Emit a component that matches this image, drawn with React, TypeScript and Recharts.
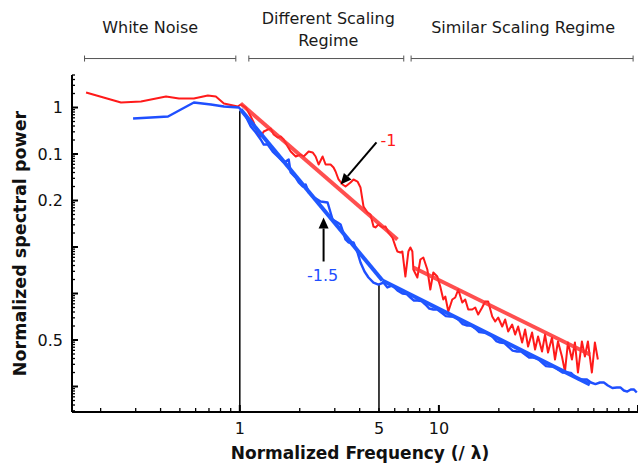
import { LineChart, Line, XAxis, YAxis, ReferenceLine, ReferenceDot } from "recharts";

// 周波数（/λ で正規化）とスペクトルパワー、赤系列
const redFreq = [
  0.169, 0.253, 0.319, 0.426, 0.495, 0.588, 0.691, 0.758, 0.832, 0.977,
  1.01, 1.072, 1.135, 1.175, 1.231, 1.274, 1.319, 1.381, 1.43, 1.48,
  1.55, 1.605, 1.661, 1.74, 1.801, 1.909, 2.021, 2.093, 2.217, 2.322,
  2.403, 2.488, 2.606, 2.697, 2.857, 2.957, 3.027, 3.133, 3.281, 3.396,
  3.598, 3.725, 3.901, 4.039, 4.181, 4.378, 4.532, 4.692, 4.801, 4.97,
  5.205, 5.388, 5.578, 5.841, 6.047, 6.189, 6.407, 6.556, 6.787, 7.026,
  7.191, 7.358, 7.443, 7.795, 8.069, 8.353, 8.748, 9.055, 9.373, 9.817,
  10.16, 10.52, 10.77, 11.15, 11.67, 12.08, 12.51, 13.1, 13.56, 14.04,
  14.7, 15.22, 15.75, 16.49, 17.07, 17.68, 18.53, 19.18, 19.85, 20.79,
  21.52, 22.28, 23.33, 24.15, 25.0, 26.18, 27.1, 28.05, 29.37, 30.41,
  31.48, 32.96, 34.12, 35.32, 36.99, 38.29, 39.64, 41.5, 42.96, 44.48,
  46.58, 48.22, 49.92, 52.27, 54.11, 56.02, 58.66, 60.73, 62.87,
];
const redPower = [
  2.1, 1.28, 1.35, 1.72, 1.56, 1.56, 1.81, 1.72, 1.22, 1.05,
  1.16, 1.0, 0.64, 0.476, 0.263, 0.238, 0.305, 0.336, 0.353, 0.263,
  0.226, 0.238, 0.205, 0.145, 0.113, 0.0884, 0.0975, 0.0884, 0.113, 0.108,
  0.0884, 0.0594, 0.0884, 0.0594, 0.0594, 0.0513, 0.042, 0.0283, 0.0221, 0.02,
  0.0244, 0.0283, 0.0256, 0.019, 0.00743, 0.00552, 0.005, 0.00276, 0.00263, 0.00305,
  0.00263, 0.00276, 0.00205, 0.0016, 0.00103, 0.0008, 0.000762, 0.0008, 0.000232, 0.0008,
  0.000976, 0.0008, 0.000328, 0.000221, 0.000538, 0.000594, 0.000328, 0.000122, 0.000283, 0.000232,
  0.000142, 0.0000743, 0.0000861, 0.000041, 0.0000743, 0.000082, 0.000122, 0.000064, 0.0000743, 0.0000453,
  0.0000453, 0.00005, 0.0000353, 0.00005, 0.0000673, 0.0000673, 0.000032, 0.000025, 0.0000305, 0.0000195,
  0.0000276, 0.0000152, 0.0000215, 0.0000131, 0.0000195, 0.00000883, 0.0000168, 0.00000724, 0.0000145, 0.00000625,
  0.0000119, 0.00000566, 0.0000131, 0.00000538, 0.0000113, 0.00000381, 0.00000929, 0.00000442, 0.0000021, 0.00000883,
  0.00000381, 0.00000883, 0.000002, 0.00000929, 0.00000442, 0.00000929, 0.000002, 0.00000883, 0.00000381,
];

// 青系列
const blueFreq = [
  0.291, 0.358, 0.436, 0.506, 0.588, 0.716, 0.832, 0.989, 1.01,
  1.072, 1.135, 1.203, 1.274, 1.319, 1.381, 1.463, 1.55, 1.642, 1.7,
  1.76, 1.801, 1.909, 1.976, 2.069, 2.141, 2.217, 2.322, 2.546, 2.76,
  2.924, 3.097, 3.206, 3.396, 3.516, 3.725, 3.901, 4.039, 4.23, 4.43,
  4.692, 4.97, 5.266, 5.514, 5.841, 6.189, 6.556, 6.87, 7.191, 7.49,
  7.795, 8.16, 8.551, 8.95, 9.373, 9.82, 10.28, 10.83, 11.41, 11.95,
  12.51, 13.17, 13.87, 14.53, 15.22, 15.93, 16.68, 17.58, 18.53, 19.4,
  20.31, 21.27, 22.28, 23.46, 24.71, 25.88, 27.1, 28.38, 29.72, 31.3,
  32.96, 34.51, 36.14, 37.85, 39.64, 41.75, 43.97, 46.05, 48.22, 50.49,
  52.87, 55.38, 58.02, 61.1, 64.35, 67.39, 70.58, 74.35, 78.31, 81.52,
  84.86, 88.36, 92.0, 95.25, 98.6,
];
const bluePower = [
  0.58, 0.609, 0.64, 0.906, 1.28, 1.16, 1.05, 1.0, 0.906,
  0.64, 0.39, 0.29, 0.205, 0.16, 0.16, 0.113, 0.0884, 0.069, 0.069,
  0.0762, 0.04, 0.0312, 0.0244, 0.02, 0.0221, 0.0149, 0.0122, 0.00951, 0.00906,
  0.0039, 0.00336, 0.00305, 0.00145, 0.00125, 0.00125, 0.000762, 0.000464, 0.000297, 0.000221,
  0.000172, 0.000156, 0.000172, 0.000135, 0.000149, 0.000116, 0.0001, 0.0000978, 0.000082, 0.0000705,
  0.0000706, 0.0000691, 0.000058, 0.0000475, 0.0000453, 0.0000454, 0.000039, 0.0000327, 0.000032, 0.0000321,
  0.0000276, 0.000022, 0.0000205, 0.0000206, 0.0000177, 0.0000148, 0.0000145, 0.0000142, 0.0000119, 0.0000095,
  0.00000883, 0.00000864, 0.00000724, 0.00000593, 0.00000566, 0.00000568, 0.00000488, 0.0000042, 0.00000421, 0.00000401,
  0.00000328, 0.00000275, 0.00000269, 0.0000027, 0.00000232, 0.00000199, 0.000002, 0.00000196, 0.00000164, 0.00000141,
  0.00000142, 0.00000142, 0.00000122, 0.00000113, 0.00000122, 0.00000122, 0.00000105, 0.000000926, 0.000000951, 0.000000954,
  0.00000082, 0.000000778, 0.000000861, 0.000000864, 0.000000743,
];

// 傾きのフィット直線（始点・終点）
const redFit1Freq = [1.01, 6.189];
const redFit1Power = [1.22, 0.00145];
const redFit2Freq = [7.443, 57.36];
const redFit2Power = [0.000362, 0.00000488];
const blueFit1Freq = [1.01, 5.205];
const blueFit1Power = [0.906, 0.00019];
const blueFit2Freq = [5.205, 57.36];
const blueFit2Power = [0.00019, 0.0000011];

// 領域の区切り
const regimeStart = [0.166, 1.11, 7.25];
const regimeEnd = [0.955, 6.66, 94.5];
const regimeLabels = [["White Noise"], ["Different Scaling", "Regime"], ["Similar Scaling Regime"]];
const regimeLevel = 11.3;

// 目盛りラベル（元の図のまま）
const xTickLabels: [number, string][] = [[1, "1"], [5, "5"], [10, "10"]];
const yTickLabels: [number, string][] = [[1, "1"], [0.1, "0.1"], [0.01, "0.2"], [0.00001, "0.5"]];

const X_MIN = 0.1436;
const X_MAX = 100;
const Y_MIN = 2.83e-7;
const Y_MAX = 5;

const RED = "#ff1a1a";
const BLUE = "#1f4fff";

const toPoints = (f: number[], p: number[]) => f.map((v, i) => ({ f: v, p: p[i] }));

// 対数目盛り（1〜9 × 10^k）
const logTicks = (min: number, max: number) => {
  const out: number[] = [];
  for (let k = -8; k <= 3; k++) {
    for (let m = 1; m <= 9; m++) {
      const v = m * Math.pow(10, k);
      if (v >= min * 0.999 && v <= max * 1.001) out.push(v);
    }
  }
  return out;
};
const same = (a: number, b: number) => Math.abs(Math.log10(a) - Math.log10(b)) < 1e-6;
const isMajor = (v: number) => Math.abs(Math.log10(v) - Math.round(Math.log10(v))) < 1e-6;
const findLabel = (v: number, list: [number, string][]) => {
  const hit = list.find(([t]) => same(t, v));
  return hit ? hit[1] : "";
};

const XTick = (props: any) => {
  const { x, y, payload } = props;
  const v = payload.value;
  const major = isMajor(v);
  const label = findLabel(v, xTickLabels);
  return (
    <g>
      <line x1={x} x2={x} y1={y} y2={y - (major ? 7 : 4)} stroke="#000" strokeWidth={major ? 2 : 1.3} />
      {label && (
        <text x={x} y={y + 22} textAnchor="middle" fontSize={16} fill="#111">
          {label}
        </text>
      )}
    </g>
  );
};

const YTick = (props: any) => {
  const { x, y, payload } = props;
  const v = payload.value;
  const major = isMajor(v);
  const label = findLabel(v, yTickLabels);
  return (
    <g>
      <line x1={x} x2={x + (major ? 6 : 3)} y1={y} y2={y} stroke="#000" strokeWidth={major ? 2 : 1.3} />
      {label && (
        <text x={x - 9} y={y + 5.5} textAnchor="end" fontSize={16} fill="#111">
          {label}
        </text>
      )}
    </g>
  );
};

const Arrow = (props: any) => {
  const { x1, y1, x2, y2 } = props;
  const ang = Math.atan2(y2 - y1, x2 - x1);
  const L = 11;
  const W = 5;
  const bx = x2 - L * Math.cos(ang);
  const by = y2 - L * Math.sin(ang);
  const px = -Math.sin(ang) * W;
  const py = Math.cos(ang) * W;
  return (
    <g>
      <line x1={x1} y1={y1} x2={bx} y2={by} stroke="#000" strokeWidth={2} />
      <polygon points={`${x2},${y2} ${bx + px},${by + py} ${bx - px},${by - py}`} fill="#000" />
    </g>
  );
};

const makeBracket = (lines: string[], dx: number) => (props: any) => {
  const { x1, y1, x2 } = props;
  const cx = (x1 + x2) / 2 + dx;
  return (
    <g>
      <line x1={x1} x2={x2} y1={y1} y2={y1} stroke="#555" strokeWidth={1} />
      <line x1={x1} x2={x1} y1={y1 - 3} y2={y1 + 3} stroke="#555" strokeWidth={1} />
      <line x1={x2} x2={x2} y1={y1 - 3} y2={y1 + 3} stroke="#555" strokeWidth={1} />
      {lines.map((t, i) => (
        <text
          key={t}
          x={cx}
          y={lines.length === 1 ? y1 - 26 : y1 - 35 + i * 22}
          textAnchor="middle"
          fontSize={16}
          fill="#1a1a1a"
        >
          {t}
        </text>
      ))}
    </g>
  );
};
const bracketShift = [-10, 2, 1];

const SlopeText = (color: string, text: string) => (props: any) => (
  <text x={props.cx} y={props.cy + 6} textAnchor="middle" fontSize={16} fill={color}>
    {text}
  </text>
);

const App = () => {
  const xTicks = logTicks(X_MIN, X_MAX);
  const yTicks = logTicks(Y_MIN, Y_MAX);
  return (
    <div style={{ position: "absolute", left: 0, top: 0, width: 638, height: 465, fontFamily: "'DejaVu Sans', sans-serif" }}>
      <LineChart width={638} height={465} margin={{ top: 75, right: 0, bottom: 23, left: 12 }}>
        <XAxis
          type="number"
          dataKey="f"
          scale="log"
          domain={[X_MIN, X_MAX]}
          allowDataOverflow
          ticks={xTicks}
          interval={0}
          tick={<XTick />}
          tickLine={false}
          tickSize={0}
          tickMargin={0}
          height={30}
          axisLine={{ stroke: "#000", strokeWidth: 2 }}
          label={{
            content: (p: any) => (
              <text
                x={p.viewBox.x + p.viewBox.width / 2 + 5}
                y={p.viewBox.y + 41}
                textAnchor="middle"
                dominantBaseline="central"
                fontSize={17}
                fontWeight="bold"
                fill="#111"
              >
                Normalized Frequency (/ λ)
              </text>
            ),
          }}
        />
        <YAxis
          type="number"
          dataKey="p"
          scale="log"
          domain={[Y_MIN, Y_MAX]}
          allowDataOverflow
          ticks={yTicks}
          interval={0}
          tick={<YTick />}
          tickLine={false}
          tickSize={0}
          tickMargin={0}
          width={60}
          axisLine={{ stroke: "#000", strokeWidth: 2 }}
          label={{
            content: (p: any) => {
              const cx = p.viewBox.x + 8;
              const cy = p.viewBox.y + p.viewBox.height / 2;
              return (
                <text
                  x={cx}
                  y={cy}
                  transform={`rotate(-90, ${cx}, ${cy})`}
                  textAnchor="middle"
                  dominantBaseline="central"
                  fontSize={17.5}
                  fontWeight="bold"
                  fill="#111"
                >
                  Normalized spectral power
                </text>
              );
            },
          }}
        />

        {regimeLabels.map((lines, i) => (
          <ReferenceLine
            key={lines[0]}
            segment={[
              { x: regimeStart[i], y: regimeLevel },
              { x: regimeEnd[i], y: regimeLevel },
            ]}
            ifOverflow="visible"
            shape={makeBracket(lines, bracketShift[i])}
          />
        ))}

        <ReferenceLine segment={[{ x: 1, y: Y_MIN }, { x: 1, y: 0.85 }]} stroke="#000" strokeWidth={1.5} ifOverflow="visible" />
        <ReferenceLine segment={[{ x: 5, y: Y_MIN }, { x: 5, y: 0.000156 }]} stroke="#000" strokeWidth={1.5} ifOverflow="visible" />

        <Line data={toPoints(redFreq, redPower)} dataKey="p" type="linear" stroke={RED} strokeWidth={2} dot={false} isAnimationActive={false} strokeLinejoin="round" />
        <Line data={toPoints(blueFreq, bluePower)} dataKey="p" type="linear" stroke={BLUE} strokeWidth={2.4} dot={false} isAnimationActive={false} strokeLinejoin="round" />
        <Line data={toPoints(redFit1Freq, redFit1Power)} dataKey="p" type="linear" stroke="#ff3030" strokeOpacity={0.85} strokeWidth={4} dot={false} isAnimationActive={false} />
        <Line data={toPoints(redFit2Freq, redFit2Power)} dataKey="p" type="linear" stroke="#ff3030" strokeOpacity={0.85} strokeWidth={4} dot={false} isAnimationActive={false} />
        <Line data={toPoints(blueFit1Freq, blueFit1Power)} dataKey="p" type="linear" stroke="#2058ff" strokeWidth={4} dot={false} isAnimationActive={false} />
        <Line data={toPoints(blueFit2Freq, blueFit2Power)} dataKey="p" type="linear" stroke="#2058ff" strokeWidth={4} dot={false} isAnimationActive={false} />

        <ReferenceLine segment={[{ x: 4.858, y: 0.177 }, { x: 3.206, y: 0.0221 }]} shape={Arrow} ifOverflow="visible" />
        <ReferenceLine segment={[{ x: 2.635, y: 0.000488 }, { x: 2.635, y: 0.00431 }]} shape={Arrow} ifOverflow="visible" />
        <ReferenceDot x={5.578} y={0.205} r={0} shape={SlopeText(RED, "-1")} />
        <ReferenceDot x={2.606} y={0.000244} r={0} shape={SlopeText(BLUE, "-1.5")} />
      </LineChart>
    </div>
  );
};

export default App;
